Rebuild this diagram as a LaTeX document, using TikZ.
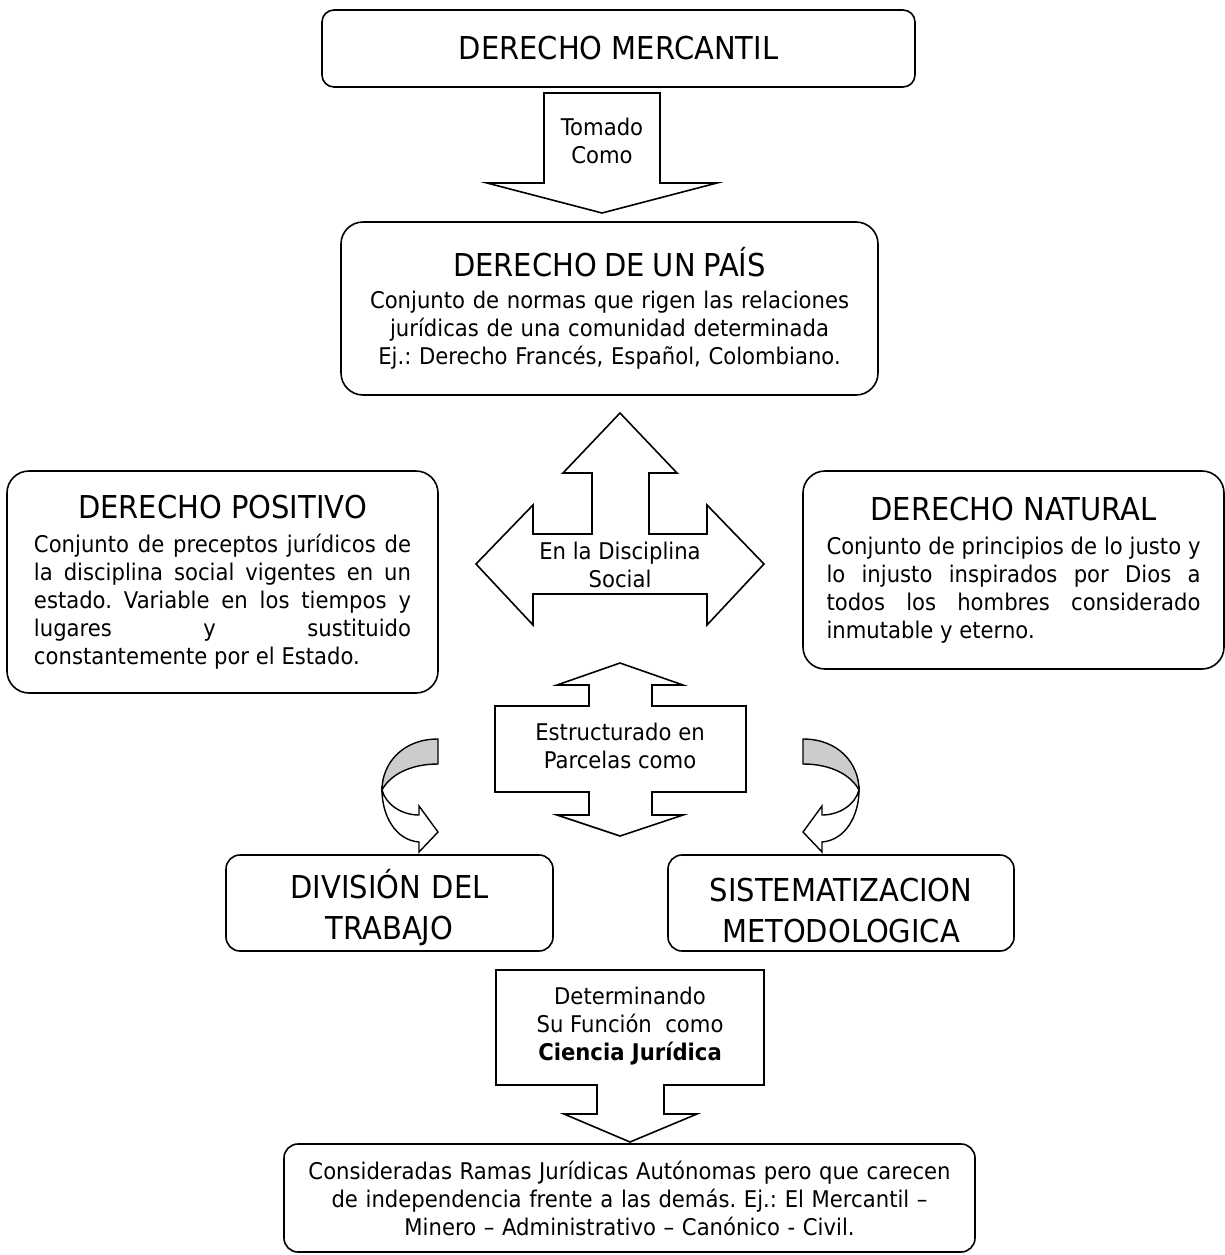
\documentclass[tikz,border=0pt]{standalone}
\usepackage{fontspec}
\setmainfont{DejaVu Sans}[FakeStretch=0.92]
\usepackage{tikz}
\definecolor{grisc}{gray}{0.8}
\newcommand\titulo{\fontsize{31.5pt}{38pt}\selectfont}
\newcommand\cuerpo{\fontsize{23pt}{28pt}\selectfont}
\setlength\parindent{0pt}
\frenchspacing

\tikzset{
  caja/.style={draw, line width=1.6pt, rounded corners=22pt, inner sep=0pt, align=center, font=\cuerpo},
  flecha/.style={draw, line width=1.6pt, fill=white, line join=miter},
  cinta/.style={draw, line width=1.4pt, fill=grisc},
  rotulo/.style={align=center, font=\cuerpo, inner sep=0pt}
}

\begin{document}
\begin{tikzpicture}[x=1pt,y=-1pt]
\useasboundingbox (0,0) rectangle (1225,1255);

% cajas
\node[caja, rounded corners=12pt, minimum width=593pt, minimum height=77pt, font=\titulo] (mercantil) at (618.5,48.5) {DERECHO MERCANTIL};
\node[caja, minimum width=537pt, minimum height=173pt, text width=520pt] (pais) at (609.5,308.5)
  {{\titulo DERECHO DE UN PAÍS\par}\vspace{4pt}Conjunto de normas que rigen las relaciones\\ jurídicas de una comunidad determinada\\ Ej.: Derecho Francés, Español, Colombiano.};
\node[caja, minimum width=431pt, minimum height=222pt, text width=377pt, align=justify] (positivo) at (222.5,582)
  {{\centering\titulo DERECHO POSITIVO\par}\vspace{6pt}Conjunto de preceptos jurídicos de\linebreak la disciplina social vigentes en un\linebreak estado. Variable en los tiempos y\linebreak lugares y sustituido\linebreak constantemente por el Estado.};
\node[caja, minimum width=421pt, minimum height=198pt, text width=374pt, align=justify] (natural) at (1013.5,570)
  {{\centering\titulo DERECHO NATURAL\par}\vspace{6pt}Conjunto de principios de lo justo y\linebreak lo injusto inspirados por Dios a\linebreak todos los hombres considerado\linebreak inmutable y eterno.};
\node[caja, rounded corners=14pt, minimum width=327pt, minimum height=96pt, text width=320pt, font=\titulo] (division) at (389.5,903)
  {\rule{0pt}{38pt}DIVISIÓN DEL\\[3pt] TRABAJO};
\node[caja, rounded corners=14pt, minimum width=346pt, minimum height=96pt, text width=340pt, font=\titulo] (sistema) at (841,903)
  {\rule{0pt}{38pt}SISTEMATIZACION\\[3pt] METODOLOGICA};
\node[caja, rounded corners=14pt, minimum width=691pt, minimum height=108pt, text width=680pt] (ramas) at (629.5,1198)
  {Consideradas Ramas Jurídicas Autónomas pero que carecen\\ de independencia frente a las demás. Ej.: El Mercantil –\\ Minero – Administrativo – Canónico - Civil.};

% flechas de bloque
\draw[flecha] (544,93) -- (660,93) -- (660,183) -- (717,183) -- (602,213) -- (487,183) -- (544,183) -- cycle;
\node[rotulo] (tomado) at (602,141) {Tomado\\ Como};

\draw[flecha] (620,413) -- (677,473) -- (649,473) -- (649,534) -- (707,534) -- (707,505) -- (764,564) -- (707,625) -- (707,594)
  -- (533,594) -- (533,625) -- (476,564) -- (533,505) -- (533,534) -- (592,534) -- (592,473) -- (563,473) -- cycle;
\node[rotulo] (disciplina) at (620,565) {En la Disciplina\\ Social};

\draw[flecha] (620,663) -- (683,685) -- (652,685) -- (652,706) -- (746,706) -- (746,792) -- (652,792) -- (652,815) -- (683,815)
  -- (620,836) -- (557,815) -- (589,815) -- (589,792) -- (495,792) -- (495,706) -- (589,706) -- (589,685) -- (557,685) -- cycle;
\node[rotulo] (parcelas) at (620,746) {Estructurado en\\ Parcelas como};

\draw[flecha] (496,970) -- (764,970) -- (764,1085) -- (664,1085) -- (664,1114) -- (697,1114) -- (630,1142) -- (564,1114)
  -- (597,1114) -- (597,1085) -- (496,1085) -- cycle;
\node[rotulo] (funcion) at (630,1026) {Determinando\\ Su Función\ \ como\\ \textbf{Ciencia Jurídica}};

% flechas curvas
\draw[cinta] (438,739) .. controls (402,739) and (382,764) .. (382,790) .. controls (390,775) and (410,764) .. (438,764) -- cycle;
\draw[flecha, line width=1.4pt] (382,790) .. controls (386,805) and (402,815) .. (419,815) -- (419,806) -- (438,832) -- (419,852)
  -- (419,842) .. controls (395,840) and (382,815) .. (382,790) -- cycle;
\draw[cinta] (803,739) .. controls (839,739) and (859,764) .. (859,790) .. controls (851,775) and (831,764) .. (803,764) -- cycle;
\draw[flecha, line width=1.4pt] (859,790) .. controls (855,805) and (839,815) .. (822,815) -- (822,806) -- (803,832) -- (822,852)
  -- (822,842) .. controls (846,840) and (859,815) .. (859,790) -- cycle;
\end{tikzpicture}
\end{document}
